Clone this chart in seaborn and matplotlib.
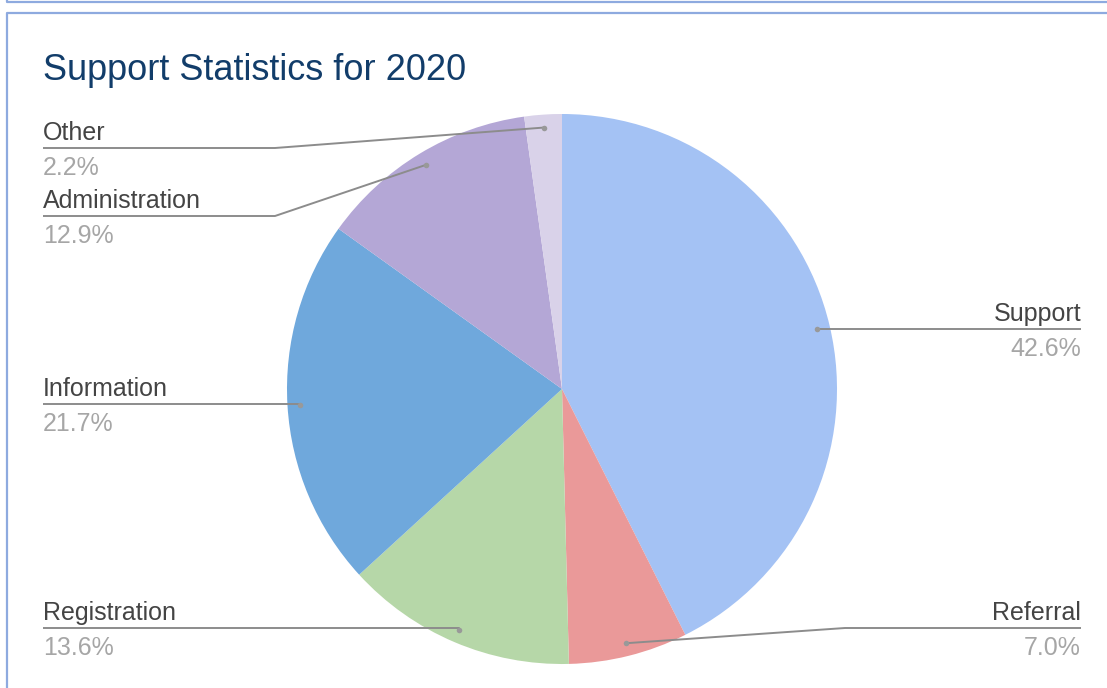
import numpy as np
import matplotlib
matplotlib.use("Agg")
import matplotlib.pyplot as plt
import seaborn as sns

# data (percent of total)
categories = ["Support", "Referral", "Registration", "Information", "Administration", "Other"]
shares = [42.6, 7.0, 13.6, 21.7, 12.9, 2.2]
slice_colors = ["#a4c2f4", "#ea9999", "#b6d7a8", "#6fa8dc", "#b4a7d6", "#d9d2e9"]

# label layout (pixels): side, y of the leader line, x of the elbow (None = straight)
label_side = ["right", "right", "left", "left", "left", "left"]
label_line_y = [329, 628, 628, 404, 216, 148]
label_elbow_x = [None, 845, None, None, 275, 275]

sns.set_theme(style="white")
plt.rcParams["font.family"] = ["Liberation Sans", "DejaVu Sans"]

W, H = 1107, 688
fig = plt.figure(figsize=(W / 100, H / 100), dpi=100)
ax = fig.add_axes([0, 0, 1, 1])

cx, cy, r = 562, 389, 275
# y axis runs downward (pixel style), so startangle=-90 + counterclock is clockwise from 12 o'clock
wedges, _ = ax.pie(shares, colors=sns.color_palette(slice_colors), startangle=-90,
                   counterclock=True, center=(cx, cy), radius=r,
                   wedgeprops=dict(linewidth=0))

ax.set_xlim(0, W)
ax.set_ylim(H, 0)
ax.set_aspect("equal")
ax.axis("off")

left_x, right_x = 43, 1081
line_col = "#8c8c8c"
for w, name, val, side, ly, ex in zip(wedges, categories, shares, label_side,
                                       label_line_y, label_elbow_x):
    mid = np.deg2rad((w.theta1 + w.theta2) / 2)
    dx = cx + 0.953 * r * np.cos(mid)
    dy = cy + 0.953 * r * np.sin(mid)
    tx = left_x if side == "left" else right_x
    elbow = dx if ex is None else ex
    ax.plot([tx, elbow, dx], [ly, ly, dy], color=line_col, lw=1.4,
            solid_capstyle="butt", zorder=3)
    ax.scatter([dx], [dy], s=16, color="#999999", zorder=4, linewidths=0)
    ha = "left" if side == "left" else "right"
    ax.text(tx, ly - 8, name, ha=ha, va="baseline", fontsize=18, color="#444444")
    ax.text(tx, ly + 27, f"{val:.1f}%", ha=ha, va="baseline", fontsize=18,
            color="#a6a6a6")

ax.text(43, 80, "Support Statistics for 2020", ha="left", va="baseline",
        fontsize=26, color="#123d6a")

# card borders
frame_col = "#8eaadf"
ax.plot([7, 7, W], [0, 2, 2], color=frame_col, lw=1.6, clip_on=False)
ax.plot([7, 7, W], [H, 13, 13], color=frame_col, lw=1.6, clip_on=False)

fig.savefig("out.png", dpi=100)
